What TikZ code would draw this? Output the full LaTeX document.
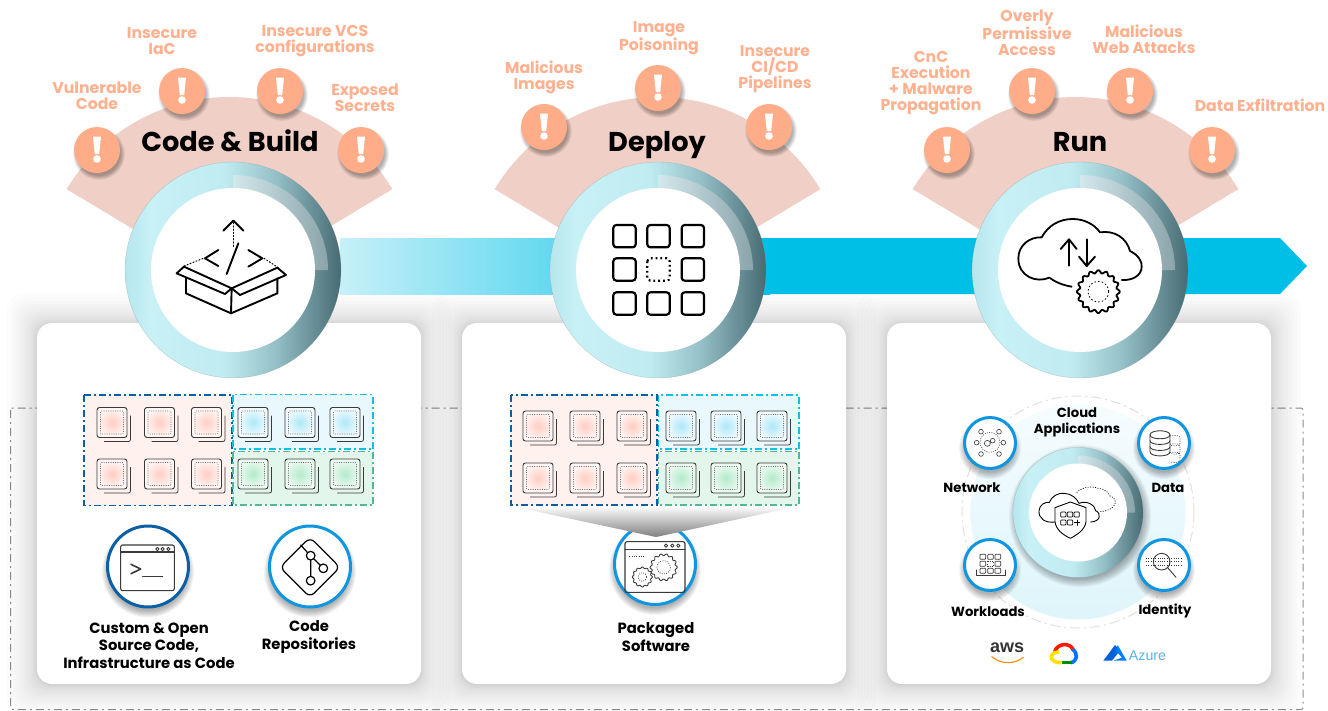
\documentclass[tikz,border=0pt]{standalone}
\usepackage{fontspec}
\setmainfont{Poppins}
\setsansfont{Liberation Sans}
\usetikzlibrary{calc}
\definecolor{alertc}{HTML}{FFAD88}
\definecolor{alertt}{HTML}{FFB18F}
\definecolor{sectorc}{HTML}{F0D0C6}
\definecolor{bandc}{HTML}{00BFE7}
\definecolor{bandl}{HTML}{C6F0F8}
\definecolor{ringA}{HTML}{B6E6EC}
\definecolor{ringB}{HTML}{C8F1F6}
\definecolor{ringC}{HTML}{C0EBF0}
\definecolor{ringD}{HTML}{94BFC6}
\definecolor{ringE}{HTML}{668C94}
\definecolor{ringF}{HTML}{476B73}
\definecolor{hiA}{HTML}{D3E8EC}
\definecolor{hiB}{HTML}{8AA4AA}
\definecolor{dblue}{HTML}{0B5FA5}
\definecolor{mblue}{HTML}{1095E0}
\definecolor{cyang}{HTML}{10C0E8}
\definecolor{greeng}{HTML}{50B89A}
\definecolor{redbg}{HTML}{FFF1EE}
\definecolor{bluebg}{HTML}{E9F8FD}
\definecolor{greenbg}{HTML}{E3F6EB}
\definecolor{redglow}{HTML}{FFCDC2}
\definecolor{blueglow}{HTML}{AEE8F8}
\definecolor{greenglow}{HTML}{B4EBCB}
\definecolor{iconc}{HTML}{3A3A3A}
\definecolor{paleT}{HTML}{F5FCFE}
\definecolor{paleB}{HTML}{DEF5FB}
\pgfdeclarehorizontalshading{ringshade}{100bp}{color(0bp)=(ringA);color(25bp)=(ringA);color(31bp)=(ringB);color(48bp)=(ringC);color(60bp)=(ringD);color(69bp)=(ringE);color(75bp)=(ringF);color(100bp)=(ringF)}
\tikzset{
  threat/.style={text=alertt,font=\fontsize{15.7}{16}\selectfont\bfseries,align=center,inner sep=0pt},
  stagetitle/.style={text=black,font=\fontsize{27.2}{28}\selectfont\bfseries,inner sep=0pt,anchor=base},
  cardlabel/.style={text=black,font=\fontsize{14.8}{17.5}\selectfont\bfseries,align=center,inner sep=0pt},
  runlabel/.style={text=black,font=\fontsize{13.2}{16}\selectfont\bfseries,align=center,inner sep=0pt},
  iconline/.style={draw=iconc,line width=0.9pt,line cap=round,line join=round},
  blackline/.style={draw=black,line width=1.9pt,line cap=round,line join=round},
  thindots/.style={draw=iconc,line width=0.6pt,dash pattern=on 1pt off 1.3pt},
  groupline/.style={line width=1.3pt,dash pattern=on 7pt off 3pt on 2pt off 3pt},
}
\newcommand{\softdisc}[4]{% x y r spread
  \foreach \k in {1,...,8}{\fill[black,opacity=0.045] (#1,#2) circle[radius=#3+#4*\k/8];}}
\newcommand{\alertdot}[3]{% name x y
  \softdisc{#2+2}{#3+4}{21}{5}
  \fill[alertc] (#2,#3) circle[radius=23] node (#1) {};
  \fill[white] (#2-4,#3-13.5) -- (#2+4,#3-13.5) -- (#2+2.2,#3+4) -- (#2-2.2,#3+4) -- cycle;
  \fill[white] (#2,#3+9) circle[radius=3.8];
}
\newcommand{\stagesector}[2]{%
  \fill[sectorc] plot[domain=31:149,samples=50] ({#1+190*cos(\x)},{#2-190*sin(\x)}) -- (#1,#2) -- cycle;
}
\newcommand{\ringdisc}[5]{%
  \shade[shading=ringshade,draw=ringF!70,draw opacity=.5,line width=.3pt] (#1,#2) circle[radius=#3];
  \shade[left color=hiA,right color=hiB]
     plot[domain=90:0,samples=40] ({#1+#5*cos(\x)},{#2-#5*sin(\x)})
     -- plot[domain=0:90,samples=40] ({#1+#4*cos(\x)},{#2-#4*sin(\x)}) -- cycle;
  \fill[white] (#1,#2) circle[radius=#4];
}
\newcommand{\stagecard}[3]{% name x0 x1
  \foreach \k in {16,15,...,1}{\pgfmathsetmacro{\sp}{30*(\k/16)*(\k/16)}
    \fill[black,opacity=0.0105,rounded corners=16pt] (#2-\sp,323-\sp+1) rectangle (#3+\sp,684+\sp+1);}
  \node[fill=white,rounded corners=15pt,inner sep=0pt,minimum width=#3pt-#2pt,minimum height=361pt] (#1) at ({(#2+#3)/2},503.5) {};
}
\newcommand{\tile}[4]{% x y glow bg
  \draw[iconc,line width=.8pt,rounded corners=2pt] (#1+7,#2+34) -- (#1+33.5,#2+34) -- (#1+33.5,#2+8);
  \shade[shading=radial,inner color=#3,outer color=#4,draw=iconc,line width=.9pt,rounded corners=2.5pt] (#1,#2) rectangle (#1+30,#2+30);
  \draw[thindots,rounded corners=1pt,draw=iconc!70] (#1+3.5,#2+3.5) rectangle (#1+26.5,#2+26.5);
}
\newcommand{\tilegrid}[8]{% r1 r2 r3 b1 b2 b3 row1 row2
  \foreach \cx in {#1,#2,#3} \foreach \cy in {#7,#8} {\tile{\cx}{\cy}{redglow}{redbg!50!white}}
  \foreach \cx in {#4,#5,#6} {\tile{\cx}{#7}{blueglow}{bluebg!50!white}\tile{\cx}{#8}{greenglow}{greenbg!60!white}}
}
\newcommand{\gearshape}[5][iconline]{% x y r n
  \draw[#1,fill=white] plot[domain=0:360,samples=#5*8+1,smooth] ({#2+(#4+0.075*#4*cos(#5*\x))*cos(\x)},{#3+(#4+0.075*#4*cos(#5*\x))*sin(\x)}) -- cycle;
}
\newcommand{\smallcircle}[5]{% name x y r colour
  \softdisc{#2}{#3+5}{#4-4}{8}
  \node[circle,fill=white,draw=#5,line width=3pt,inner sep=0pt,minimum size=2*#4pt-3pt] (#1) at (#2,#3) {};
}
\begin{document}
\begin{tikzpicture}[x=1pt,y=-1pt]
\useasboundingbox (0,0) rectangle (1328,710);
\fill[white] (0,0) rectangle (1328,710);
% dashed frame
\draw[draw=black!45,line width=1pt,dash pattern=on 8pt off 4pt on 2pt off 4pt,rounded corners=2pt] (10.5,408) rectangle (1303,709.5);
% cards
\stagecard{cardA}{37}{421}
\stagecard{cardB}{462}{846}
\stagecard{cardC}{887}{1271}
% band
\shade[left color=bandl,right color=bandc] (340,238) rectangle (770,294);
\fill[bandc] (769,238) -- (1280,238) -- (1307,266) -- (1280,294) -- (769,294) -- cycle;
% sectors
\stagesector{229.5}{287}
\stagesector{657.5}{287}
\stagesector{1075.5}{287}
% discs
\ringdisc{233}{270}{108}{82}{95}
\ringdisc{658}{270}{108}{82}{95}
\ringdisc{1080}{270}{108}{82}{95}
% alerts
\alertdot{a1}{97}{150}\alertdot{a2}{182}{91}\alertdot{a3}{280}{91}\alertdot{a4}{361}{150}
\alertdot{b1}{544}{127}\alertdot{b2}{658}{88}\alertdot{b3}{769}{127}
\alertdot{c1}{947}{150}\alertdot{c2}{1032}{91}\alertdot{c3}{1130}{91}\alertdot{c4}{1212}{150}
% titles
\node[stagetitle] (titleA) at (230,151.5) {Code \& Build};
\node[stagetitle] (titleB) at (657,151.5) {Deploy};
\node[stagetitle] (titleC) at (1080,151.5) {Run};
% threats
\node[threat] (t1) at (97,96) {Vulnerable\\Code};
\node[threat] (t2) at (162,41.5) {Insecure\\IaC};
\node[threat] (t3) at (315,41.5) {Insecure VCS\\configurations};
\node[threat] (t4) at (365,98) {Exposed\\Secrets};
\node[threat] (t5) at (544,77.5) {Malicious\\Images};
\node[threat] (t6) at (659,38.5) {Image\\Poisoning};
\node[threat] (t7) at (775,69.5) {Insecure\\CI/CD\\Pipelines};
\node[threat] (t8) at (931,83) {CnC\\Execution\\+ Malware\\Propagation};
\node[threat] (t9) at (1027,33) {Overly\\Permissive\\Access};
\node[threat] (t10) at (1144,39) {Malicious\\Web Attacks};
\node[threat] (t11) at (1260,105) {Data Exfiltration};
% box icon
\begin{scope}[shift={(40,0)},scale=1/3]
  \draw[blackline] (550,692) -- (580,662) -- (610,692);
  \draw[blackline,line width=1pt,dash pattern=on 1.2pt off 2pt] (580,668) -- (580,740);
  \draw[blackline] (595,730) -- (560,822);
  \draw[blackline] (535,750) -- (495,775) -- (535,798);
  \draw[blackline] (625,750) -- (667,775) -- (625,800);
  \draw[blackline,line width=1pt,dash pattern=on 1.2pt off 2pt] (432,798) -- (490,775);
  \draw[blackline,line width=1pt,dash pattern=on 1.2pt off 2pt] (672,775) -- (715,803);
  \draw[blackline] (410,820) -- (432,800) -- (575,865) -- (555,882) -- cycle;
  \draw[blackline] (575,865) -- (712,803) -- (738,825) -- (600,885) -- cycle;
  \draw[blackline] (438,835) -- (438,880) -- (573,940) -- (712,880) -- (712,835);
  \draw[blackline] (575,865) -- (573,940);
\end{scope}
% grid icon
\begin{scope}[shift={(490,150)},scale=1/3]
  \foreach \cx/\cy in {370/225,472/225,575/225,370/325,575/325,370/427,472/427,575/427}
    \draw[blackline,line width=2.2pt,rounded corners=3pt] (\cx,\cy) rectangle ++(67,67);
  \draw[black,line width=2.2pt,dash pattern=on 1.8pt off 3pt,rounded corners=3pt] (472,325) rectangle ++(67,67);
\end{scope}
% cloud icon
\begin{scope}[shift={(950,150)},scale=1/3]
  \draw[blackline,line width=1.8pt] (365,410) .. controls (335,405) and (315,395) .. (298,383)
    .. controls (260,400) and (205,380) .. (205,325)
    .. controls (205,285) and (240,260) .. (275,262)
    .. controls (295,225) and (330,207) .. (368,207)
    .. controls (405,207) and (435,225) .. (450,247)
    .. controls (495,240) and (530,265) .. (540,303)
    .. controls (565,315) and (577,335) .. (575,350)
    .. controls (575,375) and (550,392) .. (515,390);
  \draw[blackline] (357,347) -- (357,270);
  \draw[blackline] (332,297) -- (357,268) -- (380,297);
  \draw[blackline] (410,268) -- (410,348);
  \draw[blackline] (387,320) -- (410,348) -- (435,320);
  \gearshape[blackline,line width=1.8pt]{445}{425}{60}{16}
  \draw[black,line width=.8pt,dash pattern=on 1.5pt off 2.2pt] (445,425) circle[radius=31];
\end{scope}
% group rectangles code
\fill[redbg] (84,395) rectangle (232,505.5);
\fill[bluebg] (233,394.5) rectangle (373,449);
\fill[greenbg] (233,451.5) rectangle (373,505);
\tilegrid{97}{144.5}{191.5}{238}{285}{330}{407.5}{459}
\draw[groupline,dblue] (84,395) rectangle (232,505.5);
\draw[groupline,cyang] (233,394.5) rectangle (373,449);
\draw[groupline,greeng] (233,451.5) rectangle (373,505);
% group rectangles deploy
\smallcircle{packC}{655}{564}{42}{mblue}
\shade[top color=white,bottom color=black!50] (511,506) -- (799,506) -- (656,537) -- cycle;
\fill[redbg] (511,395) rectangle (657,505);
\fill[bluebg] (658.5,395) rectangle (799,449);
\fill[greenbg] (658.5,451.5) rectangle (799,505);
\tilegrid{523}{570}{617}{666}{711}{757}{411}{463}
\draw[groupline,dblue] (511,395) rectangle (657,505);
\draw[groupline,cyang] (658.5,395) rectangle (799,449);
\draw[groupline,greeng] (658.5,451.5) rectangle (799,505);
% circles code
\smallcircle{termC}{148}{566.5}{42}{dblue}
\smallcircle{gitC}{310}{566.5}{42}{mblue}
\begin{scope}[shift={(30,380)},scale=1/3]
  \draw[iconline,rounded corners=2pt,line width=1.1pt] (272,495) rectangle (433,632);
  \draw[iconline,line width=1.1pt] (272,516) -- (433,516);
  \foreach \cx in {382,398,415} \draw[iconline] (\cx,507) circle[radius=5];
  \draw[iconline,line width=1.6pt] (303,553) -- (332,567) -- (303,581);
  \draw[iconline] (338,588) -- (398,588);
  \draw[blackline,line width=1.2pt,rounded corners=6pt] (840,472) -- (930,562) -- (840,652) -- (750,562) -- cycle;
  \draw[blackline,line width=1.2pt] (842,527) circle[radius=13] (880,565) circle[radius=13] (842,602) circle[radius=13];
  \draw[blackline,line width=1.2pt] (842,540) -- (842,589) (851,536) -- (871,556) (833,518) -- (812,495);
\end{scope}
% packaged icon
\begin{scope}[shift={(490,385)},scale=1/3]
  \draw[iconline,rounded corners=2pt,line width=1.1pt] (405,470) rectangle (585,622);
  \draw[iconline,line width=1.1pt] (405,493) -- (585,493);
  \foreach \cx in {528,547,565} \draw[iconline] (\cx,482) circle[radius=5];
  \draw[thindots] (418,514) -- (460,514);
  \gearshape{521}{547}{38}{14}
  \draw[thindots] (521,547) circle[radius=20];
  \gearshape{457}{576}{28}{12}
  \draw[thindots] (457,576) circle[radius=13];
\end{scope}
% card labels
\node[cardlabel] (l1) at (149,645.5) {Custom \& Open\\Source Code,\\Infrastructure as Code};
\node[cardlabel] (l2) at (309,637) {Code\\Repositories};
\node[cardlabel] (l3) at (656,637) {Packaged\\Software};
% run panel
\draw[draw=black!12,line width=1pt,dash pattern=on 10pt off 4pt on 2pt off 4pt] (1078,512) circle[radius=116];
\shade[top color=paleT,bottom color=paleB] (1078,512) circle[radius=107.5];
\softdisc{1080}{516}{62}{9}
\ringdisc{1078}{512.5}{65}{49}{57}
\smallcircle{netC}{990}{443}{27}{mblue}
\smallcircle{dataC}{1164}{443}{27}{mblue}
\smallcircle{workC}{990}{565}{27}{mblue}
\smallcircle{idC}{1164}{565}{27}{mblue}
\begin{scope}[shift={(930,390)},scale=1/3]
  % cloud and shield
  \draw[iconline,draw=black,line width=.9pt] (375,396) .. controls (345,400) and (325,385) .. (327,362)
     .. controls (328,345) and (345,335) .. (358,337)
     .. controls (365,318) and (385,308) .. (403,310)
     .. controls (425,311) and (440,325) .. (447,340)
     .. controls (470,330) and (495,345) .. (497,362)
     .. controls (515,370) and (512,395) .. (482,396);
  \draw[draw=black,line width=.7pt,dash pattern=on 1pt off 1.5pt] (440,308) .. controls (450,295) and (480,285) .. (505,295)
     .. controls (530,298) and (535,310) .. (540,318)
     .. controls (565,325) and (565,360) .. (510,365);
  \draw[iconline,draw=black,fill=white] (375,353) -- (421,336) -- (468,353) -- (468,395) .. controls (465,420) and (440,435) .. (421,445)
     .. controls (400,435) and (378,420) .. (375,395) -- cycle;
  \foreach \cx in {392,412,432} \draw[iconline,draw=black,line width=.7pt,rounded corners=.8pt] (\cx,366) rectangle ++(16,15);
  \foreach \cx in {392,412} \draw[iconline,draw=black,line width=.7pt,rounded corners=.8pt] (\cx,390) rectangle ++(16,15);
  \draw[iconline,draw=black,line width=.7pt] (433,398) -- (449,398) (441,390) -- (441,406);
  % network
  \foreach \cx/\cy in {153/125,207/125,140/158,220/158,153/192,207/192} \draw[iconline,line width=.6pt] (\cx,\cy) circle[radius=7];
  \draw[iconline,line width=.6pt] (172,160) circle[radius=9] (188,152) circle[radius=7];
  \draw[thindots] (180,157) circle[radius=30];
  % data
  \foreach \oy in {0,25,50} {
    \draw[thindots] (720,138+\oy) .. controls (740,134+\oy) and (750,138+\oy) .. (750,144+\oy) -- (750,160+\oy) .. controls (750,166+\oy) and (740,170+\oy) .. (720,166+\oy);
  }
  \draw[iconline,fill=white] (660,135) .. controls (660,118) and (720,118) .. (720,135) -- (720,185) .. controls (720,202) and (660,202) .. (660,185) -- cycle;
  \draw[iconline] (660,135) .. controls (660,150) and (720,150) .. (720,135);
  \draw[iconline] (660,152) .. controls (660,167) and (720,167) .. (720,152);
  \draw[iconline] (660,170) .. controls (660,185) and (720,185) .. (720,170);
  % workloads
  \foreach \cx in {150,173,195} \foreach \cy in {493,514,535} {
    \ifnum\cx\cy=173514\relax
      \draw[thindots] (\cx,\cy) rectangle ++(17,15);
    \else
      \draw[iconline,line width=.7pt,rounded corners=.8pt] (\cx,\cy) rectangle ++(17,15);
    \fi}
  \draw[iconline,line width=.7pt] (138,540) -- (138,555) -- (225,555) -- (225,540);
  % identity
  \foreach \cy in {505,515,525} \draw[thindots] (648,\cy) -- (758,\cy);
  \draw[iconline] (695,515) circle[radius=25] (713,533) -- (738,562);
  % logos
  \draw[draw=orange!90!yellow,line width=1.1pt,line cap=round] (185,800) .. controls (215,825) and (255,822) .. (280,802);
  \draw[draw=red!80!orange,line width=3.6pt] (374,786) .. controls (380,760) and (420,755) .. (430,780);
  \draw[draw=blue!55!cyan,line width=3.6pt] (428,778) .. controls (445,790) and (442,815) .. (422,818);
  \draw[draw=green!55!black,line width=3.6pt] (425,818) -- (395,818);
  \draw[draw=yellow!85!orange,line width=3.6pt] (395,818) .. controls (355,820) and (355,785) .. (388,786);
  \fill[blue!55!cyan!85!black] (555,765) -- (520,812) -- (546,812) -- (570,782) -- cycle;
  \fill[blue!50!cyan] (563,765) -- (590,812) -- (550,812) -- (576,803) -- (558,783) -- cycle;
\end{scope}
\node[inner sep=0pt,text=black!80,font=\sffamily\bfseries\fontsize{18}{18}\selectfont] (awsL) at (1007,648) {aws};
\node[inner sep=0pt,text=mblue!70!white,font=\sffamily\fontsize{14.2}{16}\selectfont] (azL) at (1147.5,655.5) {Azure};
\node[runlabel] (r1) at (1077,422.5) {Cloud\\Applications};
\node[runlabel] (r2) at (972,488) {Network};
\node[runlabel] (r3) at (1168,488) {Data};
\node[runlabel] (r4) at (988,612) {Workloads};
\node[runlabel] (r5) at (1165,611) {Identity};
\end{tikzpicture}
\end{document}
